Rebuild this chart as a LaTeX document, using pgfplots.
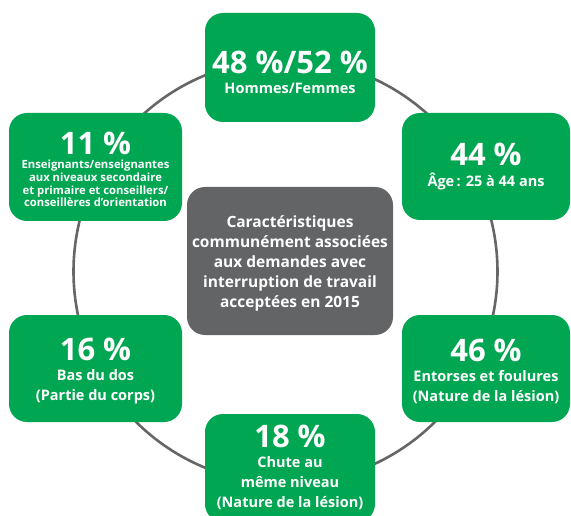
\documentclass[border=0pt]{standalone}
\usepackage{fontspec}
\setmainfont{Open Sans}
\usepackage{pgfplots}
\pgfplotsset{compat=1.18}
\definecolor{grn}{HTML}{00A651}
\definecolor{dgray}{HTML}{636466}
\definecolor{cgray}{HTML}{666668}
\newcommand{\numfont}{\fontsize{31}{31}\selectfont}
\newcommand{\labfont}{\fontsize{14.5}{20}\selectfont}
\newcommand{\smlfont}{\fontsize{11.3}{12.7}\selectfont}
\begin{document}
\begin{tikzpicture}
\begin{axis}[scale only axis, width=571pt, height=516pt,
  xmin=0, xmax=571, ymin=0, ymax=516, y dir=reverse,
  axis lines=none, clip=true]
% ring
\draw[cgray, line width=2.6pt] (axis cs:285.5,271.5) circle[radius=212];
% boxes
\fill[grn, rounded corners=18pt] (axis cs:205,13) rectangle (axis cs:375,122);
\fill[grn, rounded corners=18pt] (axis cs:9,113) rectangle (axis cs:182,221);
\fill[grn, rounded corners=18pt] (axis cs:402,113) rectangle (axis cs:570,220);
\fill[grn, rounded corners=18pt] (axis cs:9,315) rectangle (axis cs:182,422);
\fill[grn, rounded corners=18pt] (axis cs:402,315) rectangle (axis cs:570,422);
\fill[grn, rounded corners=18pt] (axis cs:205,414) rectangle (axis cs:375,522);
\fill[dgray, rounded corners=18pt] (axis cs:187,187) rectangle (axis cs:393,335);
% texts
\node[text=white, font=\bfseries\labfont, align=center] at (axis cs:290,72)
  {{\numfont 48~\%/52~\%}\\Hommes/Femmes};
\node[text=white, font=\bfseries\labfont, align=center] at (axis cs:486,167)
  {{\numfont 44~\%}\\[1pt]Âge\,: 25 à 44 ans};
\node[text=white, font=\bfseries\smlfont, align=center] at (axis cs:95.5,169.5)
  {{\numfont 11~\%}\\[1.5pt]Enseignants/enseignantes\\aux niveaux secondaire\\et primaire et conseillers/\\conseillères d’orientation};
\node[text=white, font=\bfseries\labfont, align=center] at (axis cs:95.5,371)
  {{\numfont 16~\%}\\Bas du dos\\(Partie du corps)};
\node[text=white, font=\bfseries\labfont, align=center] at (axis cs:486,371)
  {{\numfont 46~\%}\\Entorses et foulures\\(Nature de la lésion)};
\node[text=white, font=\bfseries\labfont, align=center] at (axis cs:290,467)
  {{\numfont 18~\%}\\Chute au\\même niveau\\(Nature de la lésion)};
\node[text=white, font=\bfseries\fontsize{15.5}{20}\selectfont, align=center] at (axis cs:290,263)
  {Caractéristiques\\communément associées\\aux demandes avec\\interruption de travail\\acceptées en 2015};
\end{axis}
\pgfresetboundingbox
\path (current axis.south west) rectangle (current axis.north east);
\end{tikzpicture}
\end{document}
